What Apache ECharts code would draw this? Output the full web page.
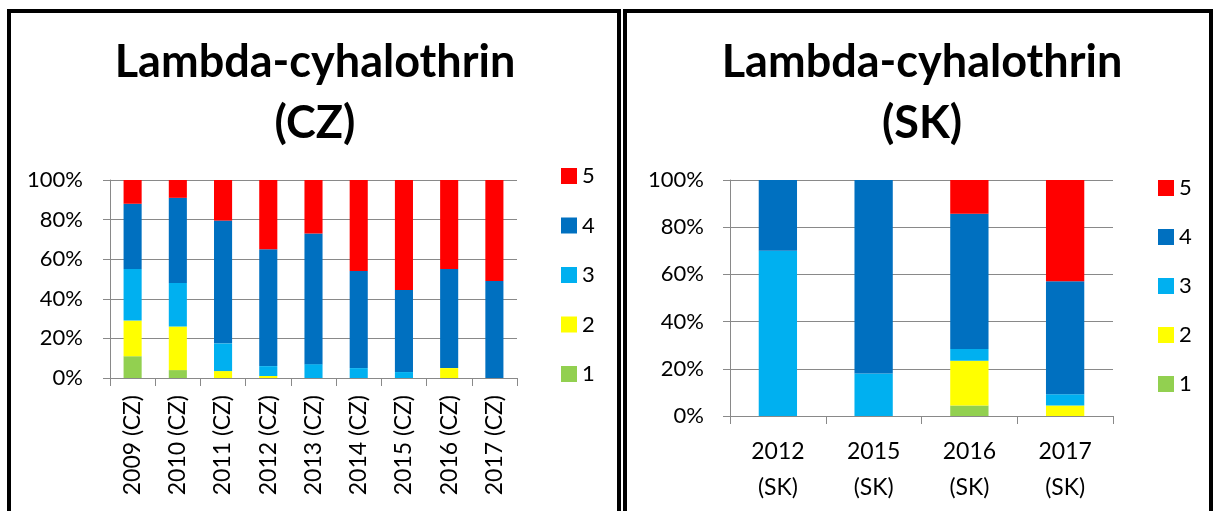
<!DOCTYPE html>
<html>
<head>
<meta charset="utf-8">
<script src="https://cdn.jsdelivr.net/npm/echarts@6/dist/echarts.min.js"></script>
<style>
  html, body { margin: 0; padding: 0; background: #fff; }
  #chart { width: 1214px; height: 511px; }
</style>
</head>
<body>
<div id="chart"></div>
<script>
// ---- Data ----
const levelNames = ['1', '2', '3', '4', '5'];
const legendOrder = ['5', '4', '3', '2', '1'];
const levelColors = ['#92D050', '#FFFF00', '#00B0F0', '#0070C0', '#FF0000'];

const czCategories = ['2009 (CZ)', '2010 (CZ)', '2011 (CZ)', '2012 (CZ)', '2013 (CZ)', '2014 (CZ)', '2015 (CZ)', '2016 (CZ)', '2017 (CZ)'];
const cz1 = [11, 4, 0, 0, 0, 0, 0, 0, 0];
const cz2 = [18, 22, 3.5, 1, 0, 0, 0, 5, 0];
const cz3 = [26, 22, 14, 5, 7, 5, 3, 0, 0];
const cz4 = [33, 43, 62, 59, 66, 49, 41.5, 50, 49];
const cz5 = [12, 9, 20.5, 35, 27, 46, 55.5, 45, 51];

const skCategories = ['2012\n(SK)', '2015\n(SK)', '2016\n(SK)', '2017\n(SK)'];
const sk1 = [0, 0, 4.4, 0];
const sk2 = [0, 0, 19, 4.4];
const sk3 = [70, 18, 5, 4.8];
const sk4 = [30, 82, 57.3, 47.9];
const sk5 = [0, 0, 14.3, 42.9];

const yTicks = [0, 20, 40, 60, 80, 100];

const titleCZ = 'Lambda-cyhalothrin\n(CZ)';
const titleSK = 'Lambda-cyhalothrin\n(SK)';

// ---- Chart ----
const FONT = 'Lato, "Open Sans", sans-serif';
const AX = '#898989';
const czSets = [cz1, cz2, cz3, cz4, cz5];
const skSets = [sk1, sk2, sk3, sk4, sk5];

function yAxis(gridIndex, margin) {
  return {
    type: 'value', gridIndex: gridIndex, min: 0, max: 100, interval: 20,
    axisLine: { show: true, lineStyle: { color: AX, width: 1 } },
    axisTick: { show: true, length: 7, lineStyle: { color: AX } },
    splitLine: { show: true, lineStyle: { color: AX, width: 1 } },
    axisLabel: { formatter: v => yTicks.includes(v) ? v + '%' : '', color: '#000', fontSize: 22, fontFamily: FONT, margin: margin }
  };
}

const series = [];
levelNames.forEach((n, i) => {
  series.push({
    name: n, type: 'bar', stack: 'cz', xAxisIndex: 0, yAxisIndex: 0,
    barWidth: '40%', data: czSets[i], itemStyle: { color: levelColors[i] },
    emphasis: { disabled: true }
  });
});
levelNames.forEach((n, i) => {
  series.push({
    name: n, type: 'bar', stack: 'sk', xAxisIndex: 1, yAxisIndex: 1,
    barWidth: '40%', data: skSets[i], itemStyle: { color: levelColors[i] },
    emphasis: { disabled: true }
  });
});

function legend(x, y, gap) {
  return {
    data: legendOrder, orient: 'vertical', left: x, top: y, padding: 0,
    icon: 'rect', itemWidth: 16, itemHeight: 16, itemGap: gap,
    textStyle: { color: '#000', fontSize: 22, fontFamily: FONT },
    selectedMode: false
  };
}

const option = {
  animation: false,
  backgroundColor: '#fff',
  color: levelColors,
  title: [
    { text: titleCZ, left: 315, top: 32, textAlign: 'center', padding: 0,
      textStyle: { fontSize: 45, fontWeight: 'bold', color: '#000', fontFamily: FONT, lineHeight: 61 } },
    { text: titleSK, left: 922, top: 32, textAlign: 'center', padding: 0,
      textStyle: { fontSize: 45, fontWeight: 'bold', color: '#000', fontFamily: FONT, lineHeight: 61 } }
  ],
  legend: [legend(561, 165, 27.5), legend(1158, 177, 27)],
  grid: [
    { left: 110, top: 180, width: 407, height: 198 },
    { left: 730, top: 180, width: 383, height: 236 }
  ],
  xAxis: [
    { type: 'category', gridIndex: 0, data: czCategories,
      axisLine: { show: true, lineStyle: { color: AX } },
      axisTick: { show: true, length: 8, lineStyle: { color: AX } },
      axisLabel: { rotate: 90, color: '#000', fontSize: 23, fontFamily: FONT, margin: 17, interval: 0 } },
    { type: 'category', gridIndex: 1, data: skCategories,
      axisLine: { show: true, lineStyle: { color: AX } },
      axisTick: { show: true, length: 8, lineStyle: { color: AX } },
      axisLabel: { color: '#000', fontSize: 23, fontFamily: FONT, margin: 18, lineHeight: 36, interval: 0 } }
  ],
  yAxis: [yAxis(0, 27), yAxis(1, 26)],
  series: series,
  graphic: [
    { type: 'rect', shape: { x: 9, y: 11, width: 610, height: 600 }, style: { fill: 'none', stroke: '#000', lineWidth: 4 }, silent: true },
    { type: 'rect', shape: { x: 625, y: 11, width: 586, height: 600 }, style: { fill: 'none', stroke: '#000', lineWidth: 4 }, silent: true }
  ]
};

const chart = echarts.init(document.getElementById('chart'), null, { renderer: 'canvas' });
chart.setOption(option);
</script>
</body>
</html>
